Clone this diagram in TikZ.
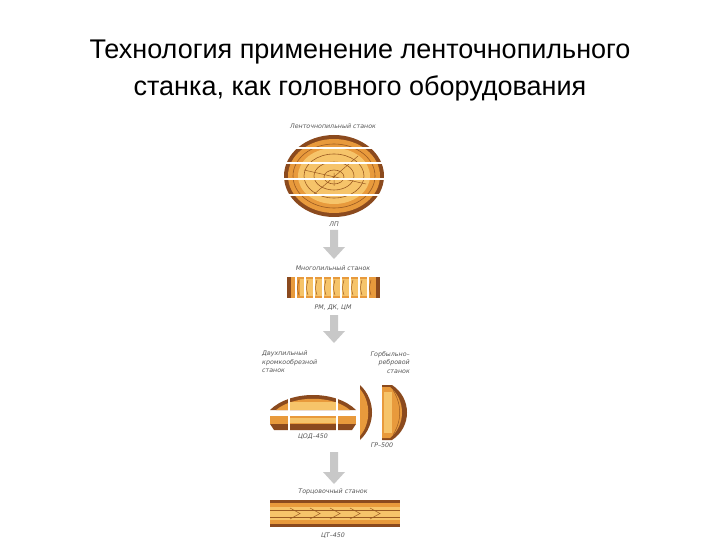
\documentclass[tikz,border=0pt]{standalone}
\usepackage{fontspec}
\setmainfont{Liberation Sans}
\newfontfamily\lab{DejaVu Sans}
\usetikzlibrary{arrows.meta}
\definecolor{rim}{HTML}{8B4A1E}
\definecolor{wood}{HTML}{E89A3C}
\definecolor{woodl}{HTML}{F6C46A}
\definecolor{ring}{HTML}{9A5A22}
\definecolor{labc}{HTML}{555555}
\definecolor{arr}{HTML}{C8C8C8}
\tikzset{
 title/.style={font=\fontsize{27}{32}\selectfont, text=black},
 lbl/.style={font=\lab\itshape\fontsize{6.3}{7.5}\selectfont, text=labc, inner sep=0pt},
 garrow/.style={draw=none, fill=arr},
 gap/.style={draw=white, line width=2.4pt},
}
\begin{document}
\begin{tikzpicture}[x=1pt,y=-1pt]
\useasboundingbox (0,0) rectangle (720,540);
\node[title] (t1) at (360,52) {Технология применение ленточнопильного};
\node[title] (t2) at (360,88) {станка, как головного оборудования};
% log
\node[lbl] (l1) at (333,126) {Ленточнопильный станок};
\fill[rim] (334,176) ellipse [x radius=50, y radius=41];
\fill[wood] (334,176) ellipse [x radius=46, y radius=37];
\fill[woodl] (334,176) ellipse [x radius=36, y radius=28];
\draw[ring,line width=0.6pt] (334,176) ellipse [x radius=41, y radius=32];
\draw[ring,line width=0.6pt] (334,176) ellipse [x radius=30, y radius=22];
\draw[ring,line width=0.6pt] (334,176) ellipse [x radius=20, y radius=14];
\draw[ring,line width=0.6pt] (334,177) ellipse [x radius=10, y radius=7];
\draw[ring,line width=0.5pt] (334,173)--(334,186) (304,170)--(366,184) (312,196)--(358,156);
\foreach \y in {148,163,179,195} \draw[gap] (280,\y)--(390,\y);
\node[lbl] (l2) at (334,224) {ЛП};
\fill[garrow] (330,230) rectangle (338,247) (323,247)--(345,247)--(334,259)--cycle;
% multisaw
\node[lbl] (m1) at (333,268) {Многопильный станок};
\fill[rim] (287,277) rectangle (380,298);
\fill[wood] (291,277) rectangle (376,298);
\fill[woodl] (300,279) rectangle (367,296);
\foreach \x in {296,305,314,323,332,341,350,359,368} {\draw[ring,line width=0.5pt] (\x+3,280) .. controls (\x+1,288) .. (\x+3,295);\draw[gap,line width=1.6pt] (\x,277)--(\x,298);}
\node[lbl] (m2) at (333,308) {РМ, ДК, ЦМ};
\fill[garrow] (330,315) rectangle (338,331) (323,331)--(345,331)--(334,343)--cycle;
% edgers
\node[lbl,align=left,anchor=north west] (e1) at (262,351) {Двухпильный\\[1pt]кромкообрезной\\[1pt]станок};
\node[lbl,align=right,anchor=north east] (e2) at (410,351) {Горбыльно–\\[1pt]ребровой\\[1pt]станок};
\fill[rim] (270,410) .. controls (290,390) and (336,390) .. (356,410) -- cycle;
\fill[wood] (276,410) .. controls (294,395) and (332,395) .. (350,410) -- cycle;
\fill[woodl] (290,410) rectangle (336,402);
\draw[gap,line width=1.6pt] (289,395)--(289,411) (337,395)--(337,411);
\fill[rim] (270,424) -- (356,424) -- (352,430) -- (274,430) -- cycle;
\fill[wood] (270,416) -- (356,416) -- (356,424) -- (270,424) -- cycle;
\fill[woodl] (290,418) rectangle (336,423);
\draw[gap,line width=1.6pt] (289,415)--(289,431) (337,415)--(337,431);
\node[lbl] (e3) at (313,437) {ЦОД–450};
\fill[rim] (360,385) .. controls (376,400) and (376,425) .. (360,440) -- cycle;
\fill[wood] (360,389) .. controls (371,402) and (371,423) .. (360,436) -- cycle;
\fill[rim] (382,385) -- (392,385) .. controls (412,398) and (412,427) .. (392,440) -- (382,440) -- cycle;
\fill[wood] (382,387) -- (390,387) .. controls (406,400) and (406,425) .. (390,438) -- (382,438) -- cycle;
\fill[woodl] (384,392) rectangle (392,433);
\draw[ring,line width=0.5pt] (393,390) .. controls (402,405) and (402,420) .. (393,435);
\draw[gap,line width=1.4pt] (381,384)--(381,441);
\node[lbl] (e4) at (382,445) {ГР–500};
\fill[garrow] (330,452) rectangle (338,472) (323,472)--(345,472)--(334,484)--cycle;
% trim
\node[lbl] (c1) at (333,492) {Торцовочный станок};
\fill[rim] (270,500) rectangle (400,527);
\fill[wood] (270,503) rectangle (400,524);
\fill[woodl] (270,507) rectangle (400,520);
\foreach \x in {290,310,330,350,370} \draw[ring,line width=0.5pt] (\x,508) -- (\x+10,513.5) -- (\x,519);
\draw[ring,line width=0.5pt] (270,510)--(400,510) (270,517)--(400,517);
\node[lbl] (c2) at (333,536) {ЦТ–450};
\end{tikzpicture}
\end{document}
